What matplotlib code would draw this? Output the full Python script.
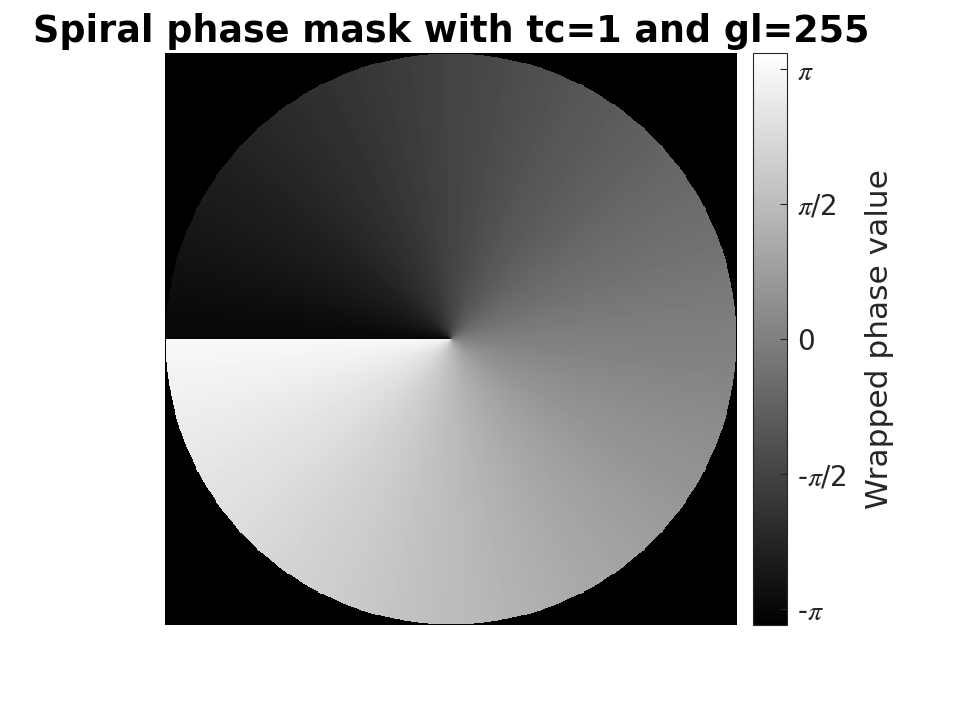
import numpy as np
import matplotlib
matplotlib.use("Agg")
import matplotlib.pyplot as plt

# parameters of the mask
tc = 1          # topological charge
gl = 255        # gray levels
N = 600         # grid samples per side

title_text = "Spiral phase mask with tc=1 and gl=255"
cbar_label = "Wrapped phase value"
cbar_ticks = [-np.pi, -np.pi / 2, 0, np.pi / 2, np.pi]
cbar_ticklabels = ["-$\\pi$", "-$\\pi$/2", "0", "$\\pi$/2", "$\\pi$"]
clim = (-3.327, 3.327)

plt.rcParams['mathtext.fontset'] = 'stix'

x = np.linspace(-1, 1, N)
X, Y = np.meshgrid(x, x)
phase = np.angle(np.exp(1j * tc * np.arctan2(Y, X)))
# quantise to gl gray levels
phase = np.round((phase + np.pi) / (2 * np.pi) * (gl - 1)) / (gl - 1) * 2 * np.pi - np.pi
R = np.hypot(X, Y)
img = np.where(R <= 1.0, phase, clim[0])

fig = plt.figure(figsize=(9.64, 7.03), dpi=100)
ax = fig.add_axes([165 / 964, 1 - 625 / 703, 572 / 964, 572 / 703])
im = ax.imshow(img, cmap='gray', vmin=clim[0], vmax=clim[1],
               origin='upper', interpolation='nearest', aspect='auto')
ax.set_axis_off()
ax.set_title(title_text, fontsize=26.3, fontweight='bold', pad=8)

cax = fig.add_axes([753 / 964, 1 - 625 / 703, 34 / 964, 572 / 703])
cb = fig.colorbar(im, cax=cax)
cb.set_ticks(cbar_ticks)
cb.set_ticklabels(cbar_ticklabels)
cb.outline.set_edgecolor('#262626')
cb.outline.set_linewidth(0.8)
cax.tick_params(direction='in', length=5, width=0.8, colors='#262626',
                labelsize=20, pad=7, labelcolor='#262626')
cb.set_label(cbar_label, fontsize=22.5, color='#262626', labelpad=14)

fig.savefig('out.png', dpi=100)
